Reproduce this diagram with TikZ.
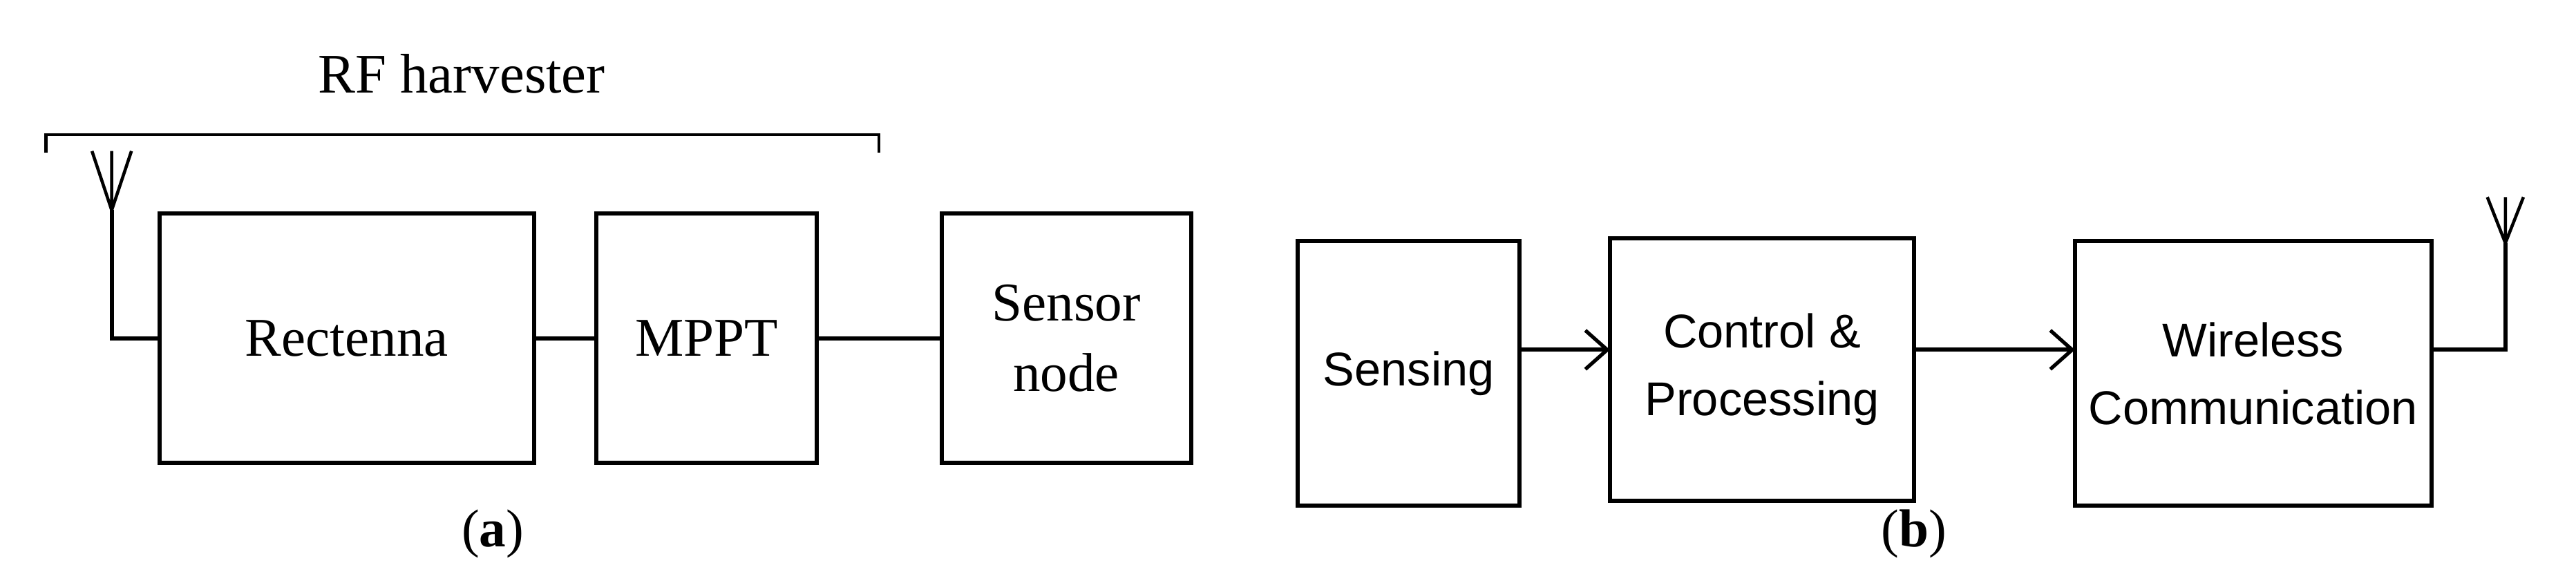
\documentclass[tikz,border=0pt]{standalone}
\usepackage{fontspec}
\setmainfont{Liberation Serif}
\newfontfamily\arialfont{Liberation Sans}
\usetikzlibrary{arrows.meta}

\tikzset{
  blk/.style={draw, line width=1.7pt, inner sep=0pt, outer sep=0pt, align=center,
    font=\fontsize{22.5}{29}\selectfont},
  blkb/.style={blk, font=\arialfont\fontsize{19.5}{28}\selectfont},
  wire/.style={line width=1.7pt},
  arr/.style={wire, -{Straight Barb[length=9pt, width=16pt, line width=1.5pt]}}
}

\begin{document}
\begin{tikzpicture}[x=0.02378cm, y=-0.02378cm]
  \useasboundingbox (0,0) rectangle (1568,349.5);

  % Bracket and label of the harvester
  \coordinate (brl) at (28,93);
  \coordinate (brr) at (535,93);
  \draw[line width=1.2pt] (brl) -- ++(0,-11) -| (brr);
  \node[font=\fontsize{23}{28}\selectfont] (rf) at (281,45) {RF harvester};

  % Part (a)
  \node[blk, minimum width=5.42cm, minimum height=3.61cm] (rect) at (211,206) {Rectenna};
  \node[blk, minimum width=3.19cm, minimum height=3.61cm] (mppt) at (430,206) {MPPT};
  \node[blk, minimum width=3.61cm, minimum height=3.61cm] (sens) at (649,206) {Sensor\\node};
  \draw[wire] (rect) -- (mppt);
  \draw[wire] (mppt) -- (sens);

  % Left antenna
  \coordinate (ant1) at (68,128);
  \draw[line width=1.3pt] (56,92) -- (ant1) -- (80,92) (68,92) -- (ant1);
  \draw[wire] (ant1) |- (rect.west);

  \node[font=\fontsize{22}{28}\selectfont] (capa) at (300,325) {(\textbf{a})};

  % Part (b)
  \node[blkb, minimum width=3.21cm, minimum height=3.83cm] (sensing) at (857.5,227.5) {Sensing};
  \node[blkb, minimum width=4.40cm, minimum height=3.80cm] (ctrl) at (1072.5,225) {Control \&\\Processing};
  \node[blkb, minimum width=5.16cm, minimum height=3.83cm] (wcom) at (1371.5,227.5) {Wireless\\Communication};
  \draw[arr] (sensing.east |- 0,213) -- (ctrl.west |- 0,213);
  \draw[arr] (ctrl.east |- 0,213) -- (wcom.west |- 0,213);

  % Right antenna
  \coordinate (ant2) at (1525,148);
  \draw[line width=1.3pt] (1514,120) -- (ant2) -- (1536,120) (1525,120) -- (ant2);
  \draw[wire] (ant2) |- (wcom.east |- 0,213);

  \node[font=\fontsize{22}{28}\selectfont] (capb) at (1165,325) {(\textbf{b})};
\end{tikzpicture}
\end{document}
